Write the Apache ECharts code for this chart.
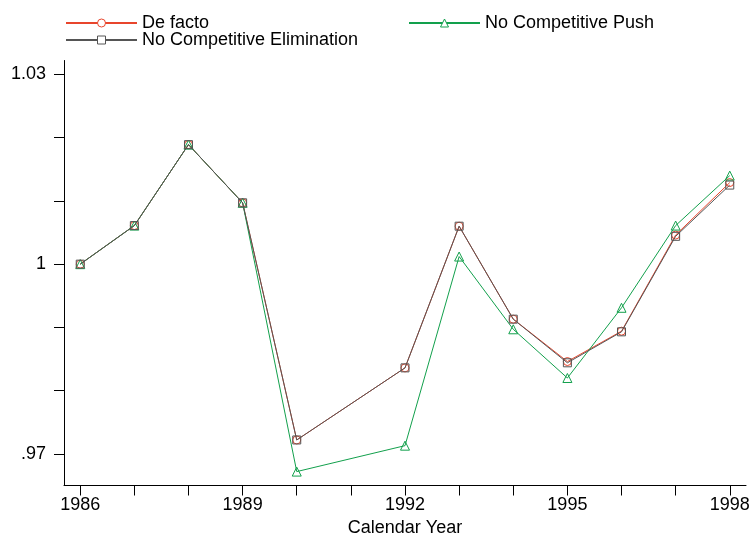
<!DOCTYPE html>
<html>
<head>
<meta charset="utf-8">
<script src="https://cdn.jsdelivr.net/npm/echarts@6/dist/echarts.min.js"></script>
<style>
html,body{margin:0;padding:0;background:#fff;}
#chart{width:750px;height:538px;}
</style>
</head>
<body>
<div id="chart"></div>
<script>
var years = [1986, 1987, 1988, 1989, 1990, 1992, 1993, 1994, 1995, 1996, 1997, 1998];
var deFacto = [1.0000, 1.0061, 1.0189, 1.0097, 0.9722, 0.9836, 1.0060, 0.9913, 0.9846, 0.9894, 1.0046, 1.0129];
var noElimination = [1.0000, 1.0061, 1.0189, 1.0097, 0.9722, 0.9836, 1.0060, 0.9913, 0.9844, 0.9893, 1.0044, 1.0125];
var noPush = [1.0000, 1.0061, 1.0189, 1.0097, 0.9672, 0.9713, 1.0012, 0.9897, 0.9820, 0.9931, 1.0061, 1.0140];
var xTickValues = [1986, 1987, 1988, 1989, 1990, 1991, 1992, 1993, 1994, 1995, 1996, 1997, 1998];
var xLabelValues = [1986, 1989, 1992, 1995, 1998];
var yTickValues = [0.97, 0.98, 0.99, 1.00, 1.01, 1.02, 1.03];
var yLabelValues = [0.97, 1.00, 1.03];

function pairs(xs, ys) { return xs.map(function (x, i) { return [x, ys[i]]; }); }

var FONT = 'Liberation Sans, Arial, sans-serif';
var RED = '#e8452c', GREEN = '#12a04c', GRAY = '#555555';

var chart = echarts.init(document.getElementById('chart'), null, {renderer: 'canvas'});

function mkSeries(name, data, color, symbol, size, z) {
  return {
    name: name, type: 'line', data: pairs(years, data), z: z,
    symbol: symbol, symbolSize: size, showAllSymbol: true,
    lineStyle: {color: color, width: 1},
    itemStyle: {color: 'rgba(255,255,255,0)', borderColor: color, borderWidth: 1},
    emphasis: {disabled: true}
  };
}

var legendCommon = {
  orient: 'horizontal', itemWidth: 71, itemHeight: 10, itemGap: 5, padding: 0,
  textStyle: {fontFamily: FONT, fontSize: 18, color: '#000'},
  itemStyle: {color: '#fff', borderWidth: 1},
  selectedMode: false
};

chart.setOption({
  animation: false,
  backgroundColor: '#fff',
  legend: [
    Object.assign({}, legendCommon, {data: ['De facto'], left: 65, top: 14}),
    Object.assign({}, legendCommon, {data: ['No Competitive Push'], left: 408, top: 14}),
    Object.assign({}, legendCommon, {data: ['No Competitive Elimination'], left: 65, top: 31})
  ],
  grid: {left: 64, right: 4, top: 60.5, height: 425, containLabel: false, outerBoundsMode: 'none'},
  xAxis: {
    type: 'value', min: 1985.7, max: 1998.3,
    name: 'Calendar Year', nameLocation: 'middle', nameGap: 26,
    nameTextStyle: {fontFamily: FONT, fontSize: 18, color: '#000'},
    axisLine: {show: true, onZero: false, lineStyle: {color: '#000', width: 1}},
    axisTick: {show: true, length: 10, customValues: xTickValues, lineStyle: {color: '#000'}},
    axisLabel: {customValues: xLabelValues, margin: 11, fontFamily: FONT, fontSize: 18, color: '#000',
      formatter: function (v) { return String(Math.round(v)); }},
    splitLine: {show: false}
  },
  yAxis: {
    type: 'value', min: 0.965, max: 1.0322,
    axisLine: {show: true, onZero: false, lineStyle: {color: '#000', width: 1}},
    axisTick: {show: true, length: 10, customValues: yTickValues, lineStyle: {color: '#000'}},
    axisLabel: {customValues: yLabelValues, margin: 18, fontFamily: FONT, fontSize: 18, color: '#000',
      formatter: function (v) {
        var s = (Math.round(v * 100) / 100).toString();
        return s.replace(/^0\./, '.');
      }},
    splitLine: {show: false}
  },
  series: [
    mkSeries('De facto', deFacto, RED, 'circle', 8, 2),
    mkSeries('No Competitive Push', noPush, GREEN, 'triangle', 9, 3),
    mkSeries('No Competitive Elimination', noElimination, GRAY, 'rect', 8, 4)
  ]
});
</script>
</body>
</html>
